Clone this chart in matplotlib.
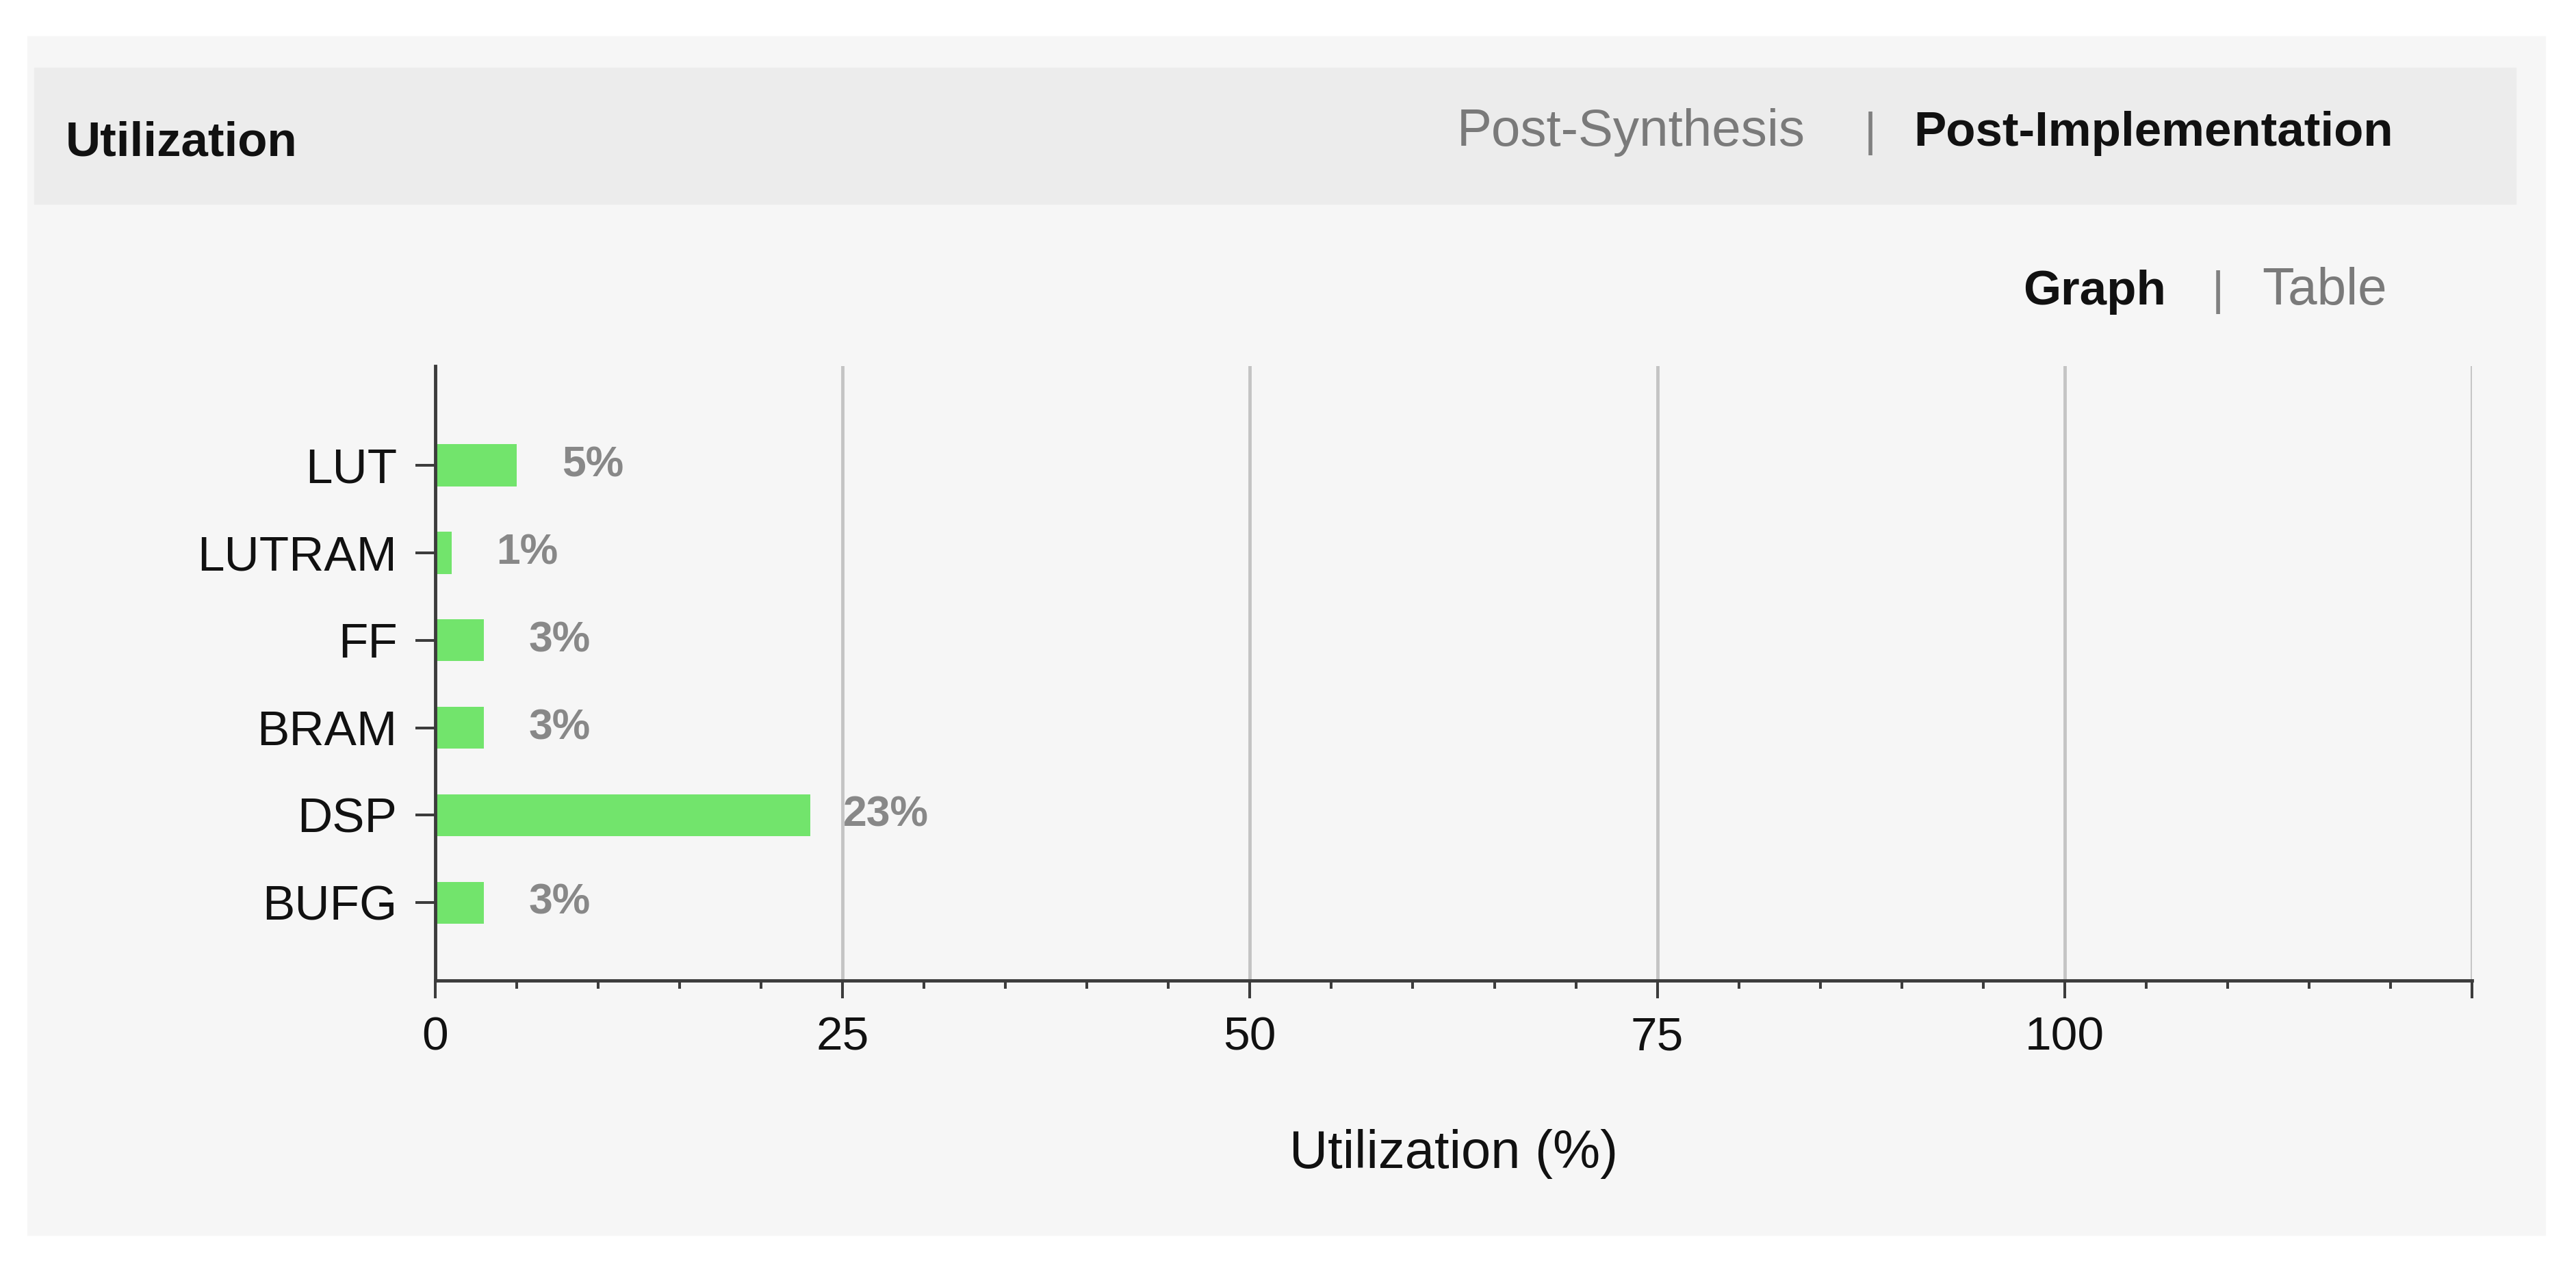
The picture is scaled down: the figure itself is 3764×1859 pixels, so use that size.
import matplotlib
matplotlib.use("Agg")
import matplotlib.pyplot as plt
import numpy as np
from matplotlib.patches import Rectangle
from matplotlib.ticker import MultipleLocator, FixedLocator

# utilization data (post-implementation)
resources = ["LUT", "LUTRAM", "FF", "BRAM", "DSP", "BUFG"]
utilization = [5, 1, 3, 3, 23, 3]
x_ticks = [0, 25, 50, 75, 100, 125]
x_tick_labels = ["0", "25", "50", "75", "100", ""]

plt.rcParams['font.family'] = ['Liberation Sans', 'DejaVu Sans']

W, H = 3764, 1859
fig = plt.figure(figsize=(W / 100, H / 100), dpi=100, facecolor="white")

# panel background and header bar
fig.patches.append(Rectangle((40 / W, 1 - 1805 / H), 3679 / W, 1752 / H,
                             transform=fig.transFigure, color="#f6f6f6", zorder=-2))
fig.patches.append(Rectangle((50 / W, 1 - 298 / H), 3626 / W, 199 / H,
                             transform=fig.transFigure, color="#ececec", zorder=-1))

# header texts
fig.text(96 / W, 1 - 227 / H, "Utilization", fontsize=51, fontweight="bold",
         color="#111111", va="baseline", ha="left")
fig.text(2129 / W, 1 - 213 / H, "Post-Synthesis", fontsize=55,
         color="#7a7a7a", va="baseline", ha="left")
fig.text(2733 / W, 1 - 213 / H, "|", fontsize=50, color="#808080",
         va="baseline", ha="center")
fig.text(2796 / W, 1 - 213 / H, "Post-Implementation", fontsize=51,
         fontweight="bold", color="#111111", va="baseline", ha="left")
fig.text(2956 / W, 1 - 445 / H, "Graph", fontsize=51, fontweight="bold",
         color="#111111", va="baseline", ha="left")
fig.text(3241 / W, 1 - 445 / H, "|", fontsize=50, color="#808080",
         va="baseline", ha="center")
fig.text(3305 / W, 1 - 445 / H, "Table", fontsize=55, color="#7a7a7a",
         va="baseline", ha="left")

# chart area
ax = fig.add_axes([636 / W, 1 - 1433 / H, (3612 - 636) / W, (1433 - 535) / H])
ax.set_facecolor("none")
ax.set_zorder(1)

y = np.arange(len(resources))
ax.barh(y, utilization, height=0.48, color="#72e46c", zorder=2)

for i, v in enumerate(utilization):
    ax.text(v + 4.65, i, f"{v}%", ha="center", va="center", fontsize=45,
            fontweight="bold", color="#888888", zorder=3)

ax.set_xlim(0, 125)
ax.set_ylim(5.89, -1.135)
ax.set_yticks(y)
ax.set_yticklabels(resources)
ax.xaxis.set_major_locator(FixedLocator(x_ticks))
ax.set_xticklabels(x_tick_labels)
ax.xaxis.set_minor_locator(MultipleLocator(5))

ax.grid(axis="x", which="major", color="#c4c4c4", linewidth=3.5, zorder=0)
ax.set_axisbelow(True)

for side in ["top", "right"]:
    ax.spines[side].set_visible(False)
for side in ["left", "bottom"]:
    ax.spines[side].set_color("#3c3c3c")
    ax.spines[side].set_linewidth(3.5)

ax.tick_params(axis="x", which="major", length=19, width=2.9, color="#3c3c3c",
               labelsize=50, pad=18, labelcolor="#111111")
ax.tick_params(axis="x", which="minor", length=8.5, width=2.9, color="#3c3c3c")
ax.tick_params(axis="y", which="major", length=21, width=2.9, color="#3c3c3c",
               labelsize=51, pad=19, labelcolor="#111111")

ax.set_xlabel("Utilization (%)", fontsize=56, color="#111111")
ax.xaxis.set_label_coords(0.5, -(1707 - 1433) / (1433 - 535))
ax.xaxis.label.set_va("baseline")

plt.savefig("out.png", dpi=100, facecolor="white")
